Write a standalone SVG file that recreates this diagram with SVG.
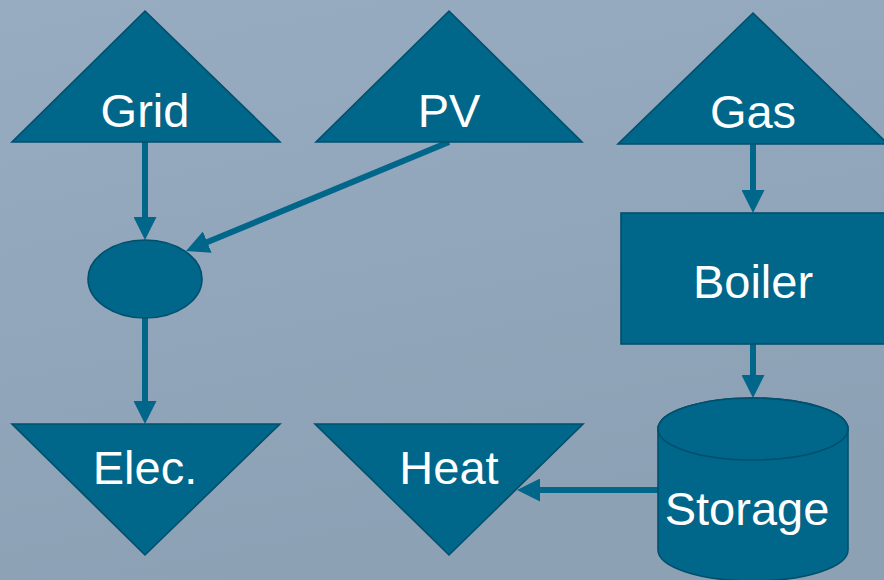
<svg xmlns="http://www.w3.org/2000/svg" width="884" height="580" viewBox="0 0 884 580">
<defs>
<linearGradient id="bg" x1="0" y1="0" x2="0.3" y2="1">
<stop offset="0" stop-color="#97acc1"/>
<stop offset="1" stop-color="#8ca1b4"/>
</linearGradient>
<marker id="ah" markerUnits="userSpaceOnUse" markerWidth="23" markerHeight="23" refX="3" refY="11.5" orient="auto">
<path d="M0,0 L23,11.5 L0,23 Z" fill="#00668a"/>
</marker>
<style>
.n{fill:#00668a;stroke:#004f6d;stroke-width:1.6;stroke-linejoin:miter}
.t{font-family:"Liberation Sans",Arial,sans-serif;font-size:47px;fill:#ffffff;text-anchor:middle}
.c{stroke:#00668a;stroke-width:6;fill:none;marker-end:url(#ah)}
</style>
</defs>
<rect x="0" y="0" width="884" height="580" fill="url(#bg)"/>
<g id="connectors">
<line class="c" x1="145" y1="142" x2="145" y2="220"/>
<line class="c" x1="449" y1="142" x2="204.5" y2="243.3"/>
<line class="c" x1="145" y1="318" x2="145" y2="404"/>
<line class="c" x1="658" y1="490" x2="537" y2="490"/>
<line class="c" x1="753" y1="144" x2="753" y2="193"/>
<line class="c" x1="753" y1="344" x2="753" y2="378"/>
</g>
<g id="grid">
<polygon class="n" points="145,11 280,142 12,142"/>
<text class="t" x="145" y="127">Grid</text>
</g>
<g id="pv">
<polygon class="n" points="449,11 582,142 316,142"/>
<text class="t" x="449" y="127">PV</text>
</g>
<g id="gas">
<polygon class="n" points="753,13 888,144 618,144"/>
<text class="t" x="753" y="128">Gas</text>
</g>
<g id="junction">
<ellipse class="n" cx="145" cy="279" rx="57" ry="39"/>
</g>
<g id="boiler">
<rect class="n" x="621" y="213" width="272" height="131"/>
<text class="t" x="753" y="298">Boiler</text>
</g>
<g id="elec">
<polygon class="n" points="12,424 280,424 145,555"/>
<text class="t" x="145" y="484">Elec.</text>
</g>
<g id="heat">
<polygon class="n" points="315,424 583,424 449,555"/>
<text class="t" x="449" y="484">Heat</text>
</g>
<g id="storage">
<path class="n" d="M658,429 L658,550 A95,31 0 0 0 848,550 L848,429 A95,31 0 0 0 658,429 Z"/>
<ellipse class="n" cx="753" cy="429" rx="95" ry="31"/>
<text class="t" x="747" y="525">Storage</text>
</g>
</svg>
